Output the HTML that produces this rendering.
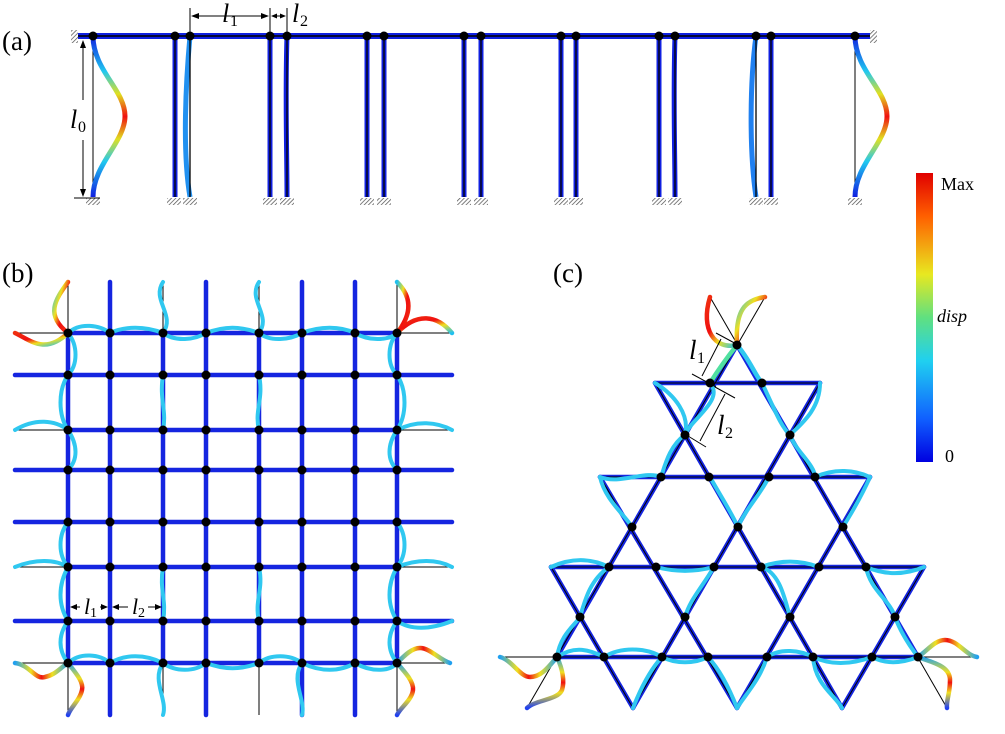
<!DOCTYPE html>
<html><head><meta charset="utf-8"><style>
html,body{margin:0;padding:0;background:#fff;}
svg{display:block;font-family:"Liberation Serif",serif;}
</style></head><body>
<svg width="1005" height="734" viewBox="0 0 1005 734" xmlns="http://www.w3.org/2000/svg">
<defs>
<linearGradient id="jetv" x1="0" y1="36" x2="0" y2="197" gradientUnits="userSpaceOnUse">
<stop offset="0" stop-color="#1020e0"/><stop offset="0.22" stop-color="#20c8f0"/><stop offset="0.36" stop-color="#e0e020"/><stop offset="0.5" stop-color="#f01010"/><stop offset="0.64" stop-color="#e0e020"/><stop offset="0.78" stop-color="#20c8f0"/><stop offset="1" stop-color="#1020e0"/>
</linearGradient>
<linearGradient id="cbar" x1="0" y1="0" x2="0" y2="1">
<stop offset="0" stop-color="#e00000"/><stop offset="0.15" stop-color="#ff6000"/><stop offset="0.35" stop-color="#e8e820"/><stop offset="0.5" stop-color="#60e080"/><stop offset="0.65" stop-color="#20d0f0"/><stop offset="0.85" stop-color="#1060ff"/><stop offset="1" stop-color="#0000e0"/>
</linearGradient>
<linearGradient id="hot" x1="0" y1="0" x2="1" y2="1">
<stop offset="0" stop-color="#20c0f0"/><stop offset="0.35" stop-color="#f0e020"/><stop offset="0.6" stop-color="#f01010"/><stop offset="1" stop-color="#f03010"/>
</linearGradient>
<linearGradient id="hot2" x1="1" y1="1" x2="0" y2="0">
<stop offset="0" stop-color="#20c0f0"/><stop offset="0.35" stop-color="#f0e020"/><stop offset="0.6" stop-color="#f01010"/><stop offset="1" stop-color="#f03010"/>
</linearGradient>
<linearGradient id="mid" x1="0" y1="0" x2="1" y2="0">
<stop offset="0" stop-color="#20a0f0"/><stop offset="0.3" stop-color="#f0e020"/><stop offset="0.5" stop-color="#f01010"/><stop offset="0.7" stop-color="#f0e020"/><stop offset="1" stop-color="#20a0f0"/>
</linearGradient>
<linearGradient id="midv" x1="0" y1="0" x2="0" y2="1">
<stop offset="0" stop-color="#20a0f0"/><stop offset="0.3" stop-color="#f0e020"/><stop offset="0.5" stop-color="#f01010"/><stop offset="0.7" stop-color="#f0e020"/><stop offset="1" stop-color="#2040f0"/>
</linearGradient>
<pattern id="hatch" width="3" height="3" patternUnits="userSpaceOnUse" patternTransform="rotate(45)">
<rect width="3" height="3" fill="#fff"/><line x1="0" y1="0" x2="0" y2="3" stroke="#555" stroke-width="1.5"/>
</pattern>
</defs>

<text x="2" y="50" font-size="27">(a)</text>
<text x="2" y="282" font-size="27">(b)</text>
<text x="553" y="282" font-size="27">(c)</text>

<!-- ===== (a) ===== -->
<g>
<rect x="71" y="30" width="7" height="13" fill="url(#hatch)"/>
<rect x="870" y="30" width="7" height="13" fill="url(#hatch)"/>
<line x1="78" y1="36" x2="870" y2="36" stroke="#1020e0" stroke-width="6"/>
<line x1="78" y1="36" x2="870" y2="36" stroke="#000" stroke-width="1.5"/>
<line x1="93" y1="36" x2="93" y2="197" stroke="#000" stroke-width="1"/>
<line x1="855" y1="36" x2="855" y2="197" stroke="#000" stroke-width="1"/>
<path d="M93,36 C93,70 125,90 125,116 C125,142 93,165 93,197" fill="none" stroke="url(#jetv)" stroke-width="5"/>
<path d="M855,36 C855,70 887,90 887,116 C887,142 855,165 855,197" fill="none" stroke="url(#jetv)" stroke-width="5"/>
<g stroke-width="5" fill="none" stroke="#1020e0">
<line x1="175" y1="36" x2="175" y2="197"/>
<path d="M190,36 C186,80 182,150 190,197" stroke="#2090f0"/>
<line x1="270" y1="36" x2="270" y2="197"/><path d="M287,36 C285,100 287,150 287,197"/>
<line x1="367" y1="36" x2="367" y2="197"/><line x1="384" y1="36" x2="384" y2="197"/>
<line x1="464" y1="36" x2="464" y2="197"/><line x1="481" y1="36" x2="481" y2="197"/>
<line x1="561" y1="36" x2="561" y2="197"/><line x1="576" y1="36" x2="576" y2="197"/>
<line x1="659" y1="36" x2="659" y2="197"/><path d="M675,36 C673,100 675,150 675,197"/>
<path d="M756,36 C750,80 749,150 756,197" stroke="#2080f0"/><line x1="771" y1="36" x2="771" y2="197"/>
</g>
<g stroke="#000" stroke-width="1.3">
<line x1="175" y1="36" x2="175" y2="197"/><line x1="190" y1="36" x2="190" y2="197"/>
<line x1="270" y1="36" x2="270" y2="197"/><line x1="287" y1="36" x2="287" y2="197"/>
<line x1="367" y1="36" x2="367" y2="197"/><line x1="384" y1="36" x2="384" y2="197"/>
<line x1="464" y1="36" x2="464" y2="197"/><line x1="481" y1="36" x2="481" y2="197"/>
<line x1="561" y1="36" x2="561" y2="197"/><line x1="576" y1="36" x2="576" y2="197"/>
<line x1="659" y1="36" x2="659" y2="197"/><line x1="675" y1="36" x2="675" y2="197"/>
<line x1="756" y1="36" x2="756" y2="197"/><line x1="771" y1="36" x2="771" y2="197"/>
</g>
<g fill="url(#hatch)">
<rect x="86" y="198" width="14" height="7"/><rect x="848" y="198" width="14" height="7"/>
<rect x="167" y="198" width="14" height="7"/><rect x="183" y="198" width="14" height="7"/>
<rect x="263" y="198" width="14" height="7"/><rect x="280" y="198" width="14" height="7"/>
<rect x="360" y="198" width="14" height="7"/><rect x="377" y="198" width="14" height="7"/>
<rect x="457" y="198" width="14" height="7"/><rect x="474" y="198" width="14" height="7"/>
<rect x="554" y="198" width="14" height="7"/><rect x="569" y="198" width="14" height="7"/>
<rect x="652" y="198" width="14" height="7"/><rect x="668" y="198" width="14" height="7"/>
<rect x="749" y="198" width="14" height="7"/><rect x="764" y="198" width="14" height="7"/>
</g>
<line x1="74" y1="198" x2="100" y2="198" stroke="#000" stroke-width="1"/>
<g fill="#000">
<circle cx="93" cy="36" r="4.5"/><circle cx="175" cy="36" r="4.5"/><circle cx="190" cy="36" r="4.5"/>
<circle cx="270" cy="36" r="4.5"/><circle cx="287" cy="36" r="4.5"/><circle cx="367" cy="36" r="4.5"/>
<circle cx="384" cy="36" r="4.5"/><circle cx="464" cy="36" r="4.5"/><circle cx="481" cy="36" r="4.5"/>
<circle cx="561" cy="36" r="4.5"/><circle cx="576" cy="36" r="4.5"/><circle cx="659" cy="36" r="4.5"/>
<circle cx="675" cy="36" r="4.5"/><circle cx="756" cy="36" r="4.5"/><circle cx="771" cy="36" r="4.5"/>
<circle cx="855" cy="36" r="4.5"/>
</g>
<g stroke="#000" stroke-width="1">
<line x1="83" y1="42" x2="83" y2="100"/><line x1="83" y1="140" x2="83" y2="195"/>
<line x1="190" y1="8" x2="190" y2="36"/><line x1="270" y1="8" x2="270" y2="36"/><line x1="287" y1="8" x2="287" y2="36"/>
<line x1="193" y1="16" x2="267" y2="16"/><line x1="272" y1="16" x2="285" y2="16"/>
</g>
<g fill="#000">
<path d="M83,40 l-3,8 h6z"/><path d="M83,197 l-3,-8 h6z"/>
<path d="M191,16 l8,-3 v6z"/><path d="M269,16 l-8,-3 v6z"/><path d="M271,16 l6,-2.5 v5z"/><path d="M286,16 l-6,-2.5 v5z"/>
</g>
<text x="70" y="128" font-size="26" font-style="italic">l</text><text x="78" y="132" font-size="16">0</text>
<text x="222" y="22" font-size="26" font-style="italic">l</text><text x="230" y="26" font-size="16">1</text>
<text x="292" y="22" font-size="26" font-style="italic">l</text><text x="300" y="26" font-size="16">2</text>
</g>

<rect x="916" y="173" width="17" height="289" fill="url(#cbar)"/>
<text x="941" y="190" font-size="18">Max</text>
<text x="937" y="322" font-size="18" font-style="italic">disp</text>
<text x="945" y="462" font-size="18">0</text>

<!-- ===== (b) ===== -->
<g>
<g stroke="#000" stroke-width="1">
<line x1="15" y1="333" x2="452" y2="333"/><line x1="15" y1="375" x2="452" y2="375"/>
<line x1="15" y1="430" x2="452" y2="430"/><line x1="15" y1="470" x2="452" y2="470"/>
<line x1="15" y1="522" x2="452" y2="522"/><line x1="15" y1="567" x2="452" y2="567"/>
<line x1="15" y1="621" x2="452" y2="621"/><line x1="15" y1="663" x2="452" y2="663"/>
<line x1="68" y1="282" x2="68" y2="715"/><line x1="110" y1="282" x2="110" y2="715"/>
<line x1="163" y1="282" x2="163" y2="715"/><line x1="206" y1="282" x2="206" y2="715"/>
<line x1="259" y1="282" x2="259" y2="715"/><line x1="302" y1="282" x2="302" y2="715"/>
<line x1="355" y1="282" x2="355" y2="715"/><line x1="397" y1="282" x2="397" y2="715"/>
</g>
<g stroke="#1525e0" stroke-width="4.5" fill="none" stroke-linecap="round">
<line x1="15" y1="375" x2="452" y2="375"/><line x1="15" y1="470" x2="452" y2="470"/>
<line x1="15" y1="522" x2="452" y2="522"/><line x1="15" y1="621" x2="452" y2="621"/>
<line x1="68" y1="333" x2="397" y2="333"/><line x1="68" y1="430" x2="397" y2="430"/>
<line x1="68" y1="567" x2="397" y2="567"/><line x1="68" y1="663" x2="397" y2="663"/>
<line x1="110" y1="282" x2="110" y2="715"/><line x1="206" y1="282" x2="206" y2="715"/>
<line x1="302" y1="282" x2="302" y2="715"/><line x1="355" y1="282" x2="355" y2="715"/>
<line x1="68" y1="333" x2="68" y2="663"/><line x1="163" y1="333" x2="163" y2="663"/>
<line x1="259" y1="333" x2="259" y2="663"/><line x1="397" y1="333" x2="397" y2="663"/>
</g>
<g stroke="#30c8f0" stroke-width="4" fill="none" stroke-linecap="round">
<path d="M68,333 C80,322 100,325 110,333"/><path d="M110,333 C125,326 145,326 163,333"/>
<path d="M163,333 C175,342 195,340 206,333"/><path d="M206,333 C225,326 240,326 259,333"/>
<path d="M259,333 C270,342 290,340 302,333"/><path d="M302,333 C320,326 340,326 355,333"/>
<path d="M355,333 C370,342 390,340 397,333"/>
<path d="M68,663 C80,652 100,654 110,663"/><path d="M110,663 C125,654 145,654 163,663"/>
<path d="M163,663 C175,672 195,672 206,663"/><path d="M206,663 C225,670 240,670 259,663"/>
<path d="M259,663 C270,654 290,654 302,663"/><path d="M302,663 C320,672 340,672 355,663"/>
<path d="M355,663 C370,672 390,672 397,663"/>
<path d="M68,333 C78,345 78,365 68,375"/><path d="M68,375 C58,390 58,415 68,430"/>
<path d="M68,430 C78,445 78,460 68,470"/><path d="M68,522 C58,535 58,555 68,567"/><path d="M68,567 C58,585 58,605 68,621"/><path d="M68,621 C58,635 58,650 68,663"/>
<path d="M397,333 C387,345 387,365 397,375"/><path d="M397,375 C407,390 407,415 397,430"/>
<path d="M397,430 C387,445 387,460 397,470"/><path d="M397,522 C407,535 407,555 397,567"/><path d="M397,567 C387,585 387,605 397,621"/><path d="M397,621 C387,635 387,650 397,663"/>
<path d="M163,282 C151,300 176,315 163,333"/><path d="M259,282 C247,300 272,315 259,333"/><path d="M163,663 C151,680 168,700 163,715"/><path d="M302,663 C290,680 306,700 302,715"/>
<path d="M15,430 C35,418 55,420 68,430"/><path d="M15,567 C35,559 55,559 68,567"/>
<path d="M397,430 C417,420 437,422 452,430"/><path d="M397,567 C417,559 437,559 452,567"/>
<path d="M397,621 C410,630 430,630 452,621"/>
<path d="M163,375 C159,400 167,410 163,430"/><path d="M259,375 C264,400 254,410 259,430"/>
<path d="M163,567 C159,590 167,600 163,621"/><path d="M259,567 C264,590 254,600 259,621"/>
</g>
<g stroke-width="4.5" fill="none" stroke-linecap="round">
<path d="M68,282 C55,300 45,315 68,333" stroke="url(#hot)"/>
<path d="M15,333 C30,340 45,355 68,333" stroke="url(#hot2)"/>
<path d="M397,282 C415,300 409,318 397,333" stroke="url(#hot)"/>
<path d="M397,333 C417,312 437,315 452,333" stroke="url(#hot2)"/>
<path d="M15,663 C30,665 35,680 45,677 C55,675 60,668 68,663" stroke="url(#mid)"/>
<path d="M68,663 C75,672 84,682 82,690 C80,700 70,708 68,715" stroke="url(#midv)"/>
<path d="M397,663 C405,655 412,648 420,648 C430,648 440,660 450,663" stroke="url(#mid)"/>
<path d="M397,663 C405,672 414,682 413,690 C412,700 400,708 397,715" stroke="url(#midv)"/>
</g>
<g fill="#000">
<circle cx="68" cy="333" r="4.5"/><circle cx="110" cy="333" r="4.5"/><circle cx="163" cy="333" r="4.5"/><circle cx="206" cy="333" r="4.5"/><circle cx="259" cy="333" r="4.5"/><circle cx="302" cy="333" r="4.5"/><circle cx="355" cy="333" r="4.5"/><circle cx="397" cy="333" r="4.5"/>
<circle cx="68" cy="375" r="4.5"/><circle cx="110" cy="375" r="4.5"/><circle cx="163" cy="375" r="4.5"/><circle cx="206" cy="375" r="4.5"/><circle cx="259" cy="375" r="4.5"/><circle cx="302" cy="375" r="4.5"/><circle cx="355" cy="375" r="4.5"/><circle cx="397" cy="375" r="4.5"/>
<circle cx="68" cy="430" r="4.5"/><circle cx="110" cy="430" r="4.5"/><circle cx="163" cy="430" r="4.5"/><circle cx="206" cy="430" r="4.5"/><circle cx="259" cy="430" r="4.5"/><circle cx="302" cy="430" r="4.5"/><circle cx="355" cy="430" r="4.5"/><circle cx="397" cy="430" r="4.5"/>
<circle cx="68" cy="470" r="4.5"/><circle cx="110" cy="470" r="4.5"/><circle cx="163" cy="470" r="4.5"/><circle cx="206" cy="470" r="4.5"/><circle cx="259" cy="470" r="4.5"/><circle cx="302" cy="470" r="4.5"/><circle cx="355" cy="470" r="4.5"/><circle cx="397" cy="470" r="4.5"/>
<circle cx="68" cy="522" r="4.5"/><circle cx="110" cy="522" r="4.5"/><circle cx="163" cy="522" r="4.5"/><circle cx="206" cy="522" r="4.5"/><circle cx="259" cy="522" r="4.5"/><circle cx="302" cy="522" r="4.5"/><circle cx="355" cy="522" r="4.5"/><circle cx="397" cy="522" r="4.5"/>
<circle cx="68" cy="567" r="4.5"/><circle cx="110" cy="567" r="4.5"/><circle cx="163" cy="567" r="4.5"/><circle cx="206" cy="567" r="4.5"/><circle cx="259" cy="567" r="4.5"/><circle cx="302" cy="567" r="4.5"/><circle cx="355" cy="567" r="4.5"/><circle cx="397" cy="567" r="4.5"/>
<circle cx="68" cy="621" r="4.5"/><circle cx="110" cy="621" r="4.5"/><circle cx="163" cy="621" r="4.5"/><circle cx="206" cy="621" r="4.5"/><circle cx="259" cy="621" r="4.5"/><circle cx="302" cy="621" r="4.5"/><circle cx="355" cy="621" r="4.5"/><circle cx="397" cy="621" r="4.5"/>
<circle cx="68" cy="663" r="4.5"/><circle cx="110" cy="663" r="4.5"/><circle cx="163" cy="663" r="4.5"/><circle cx="206" cy="663" r="4.5"/><circle cx="259" cy="663" r="4.5"/><circle cx="302" cy="663" r="4.5"/><circle cx="355" cy="663" r="4.5"/><circle cx="397" cy="663" r="4.5"/>
</g>
<g stroke="#000" stroke-width="1">
<line x1="71" y1="607" x2="107" y2="607"/><line x1="113" y1="607" x2="160" y2="607"/>
</g>
<g fill="#000"><path d="M70,607 l7,-3 v6z"/><path d="M108,607 l-7,-3 v6z"/><path d="M112,607 l7,-3 v6z"/><path d="M162,607 l-7,-3 v6z"/></g>
<rect x="80" y="592" width="20" height="25" fill="#fff"/><rect x="128" y="592" width="20" height="25" fill="#fff"/>
<text x="84" y="614" font-size="22" font-style="italic">l</text><text x="90" y="617" font-size="14">1</text>
<text x="132" y="614" font-size="22" font-style="italic">l</text><text x="138" y="617" font-size="14">2</text>
</g>

<!-- ===== (c) ===== -->
<g>
<g stroke="#1525e0" stroke-width="4.5" stroke-linecap="round" fill="none">
<line x1="655" y1="383" x2="820" y2="383"/><line x1="600" y1="477" x2="870" y2="477"/>
<line x1="551" y1="567" x2="924" y2="567"/><line x1="557" y1="657" x2="918" y2="657"/>
<line x1="737" y1="345" x2="557" y2="657"/><line x1="737" y1="345" x2="918" y2="657"/>
<line x1="655" y1="383" x2="842" y2="708"/><line x1="820" y1="383" x2="633" y2="708"/>
<line x1="600" y1="477" x2="737" y2="708"/><line x1="870" y1="477" x2="737" y2="708"/>
<line x1="551" y1="567" x2="633" y2="708"/><line x1="924" y1="567" x2="842" y2="708"/>
</g>
<g stroke="#000" stroke-width="1">
<line x1="655" y1="383" x2="820" y2="383"/><line x1="600" y1="477" x2="870" y2="477"/>
<line x1="551" y1="567" x2="924" y2="567"/><line x1="500" y1="657" x2="977" y2="657"/>
<line x1="765" y1="297" x2="527" y2="708"/><line x1="710" y1="297" x2="947" y2="708"/>
<line x1="655" y1="383" x2="842" y2="708"/><line x1="820" y1="383" x2="633" y2="708"/>
<line x1="600" y1="477" x2="737" y2="708"/><line x1="870" y1="477" x2="737" y2="708"/>
<line x1="551" y1="567" x2="633" y2="708"/><line x1="924" y1="567" x2="842" y2="708"/>
</g>
<g stroke="#30c8f0" stroke-width="4" fill="none" stroke-linecap="round">
<path d="M655,383 C675,395 690,415 685,435"/><path d="M820,383 C820,410 800,425 790,435"/>
<path d="M710,383 C725,400 690,420 685,435"/><path d="M762,383 C775,410 780,425 790,435"/>
<path d="M600,477 C620,485 645,470 661,477"/><path d="M815,477 C835,468 855,470 870,477"/>
<path d="M685,435 C670,445 665,465 661,477"/><path d="M790,435 C795,450 815,465 815,477"/>
<path d="M551,567 C575,556 595,560 609,567"/><path d="M866,567 C885,575 905,575 924,567"/>
<path d="M600,477 C605,500 625,515 632,527"/><path d="M870,477 C860,500 850,515 843,527"/>
<path d="M609,567 C590,580 585,600 580,617"/><path d="M714,567 C700,590 690,600 685,617"/>
<path d="M761,567 C780,572 785,600 790,617"/><path d="M866,567 C870,590 890,600 895,617"/>
<path d="M656,567 C675,572 695,572 714,567"/><path d="M761,567 C780,560 800,560 819,567"/>
<path d="M557,657 C575,645 590,650 604,657"/><path d="M662,657 C650,670 640,690 633,708"/>
<path d="M604,657 C620,647 645,647 662,657"/><path d="M662,657 C675,664 695,664 708,657"/>
<path d="M767,657 C780,648 800,650 813,657"/><path d="M813,657 C830,665 850,665 872,657"/>
<path d="M872,657 C885,664 900,664 918,657"/>
<path d="M708,657 C720,670 730,690 737,708"/><path d="M767,657 C760,680 745,695 737,708"/>
<path d="M813,657 C815,685 835,695 842,708"/>
<path d="M557,657 C560,635 575,625 580,617"/><path d="M918,657 C905,640 898,625 895,617"/>
<path d="M710,477 C720,495 730,510 738,527"/><path d="M769,477 C760,495 745,510 738,527"/>
</g>
<g stroke-width="4.5" fill="none" stroke-linecap="round">
<path d="M737,345 C715,350 700,330 710,297" stroke="url(#hot2)"/>
<path d="M737,345 C735,310 745,300 765,297" stroke="url(#hot)"/>
<path d="M737,345 C750,360 755,375 762,383" stroke="#30c8f0"/>
<path d="M737,345 C725,360 715,375 710,383" stroke="#50e0a0"/>
<path d="M500,657 C512,660 520,677 530,677 C542,677 550,665 557,657" stroke="url(#mid)"/>
<path d="M557,657 C562,668 565,680 562,690 C558,700 535,700 527,708" stroke="url(#midv)"/>
<path d="M918,657 C928,650 935,640 945,640 C958,640 965,655 977,657" stroke="url(#mid)"/>
<path d="M918,657 C930,662 950,665 950,680 C950,695 946,700 947,708" stroke="url(#midv)"/>
</g>
<g fill="#000">
<circle cx="737" cy="345" r="4.5"/><circle cx="710" cy="383" r="4.5"/><circle cx="762" cy="383" r="4.5"/>
<circle cx="685" cy="435" r="4.5"/><circle cx="790" cy="435" r="4.5"/>
<circle cx="661" cy="477" r="4.5"/><circle cx="709" cy="477" r="4.5"/><circle cx="769" cy="477" r="4.5"/><circle cx="815" cy="477" r="4.5"/>
<circle cx="632" cy="527" r="4.5"/><circle cx="738" cy="527" r="4.5"/><circle cx="843" cy="527" r="4.5"/>
<circle cx="609" cy="567" r="4.5"/><circle cx="656" cy="567" r="4.5"/><circle cx="714" cy="567" r="4.5"/><circle cx="761" cy="567" r="4.5"/><circle cx="819" cy="567" r="4.5"/><circle cx="866" cy="567" r="4.5"/>
<circle cx="580" cy="617" r="4.5"/><circle cx="685" cy="617" r="4.5"/><circle cx="790" cy="617" r="4.5"/><circle cx="895" cy="617" r="4.5"/>
<circle cx="557" cy="657" r="4.5"/><circle cx="604" cy="657" r="4.5"/><circle cx="662" cy="657" r="4.5"/><circle cx="708" cy="657" r="4.5"/><circle cx="767" cy="657" r="4.5"/><circle cx="813" cy="657" r="4.5"/><circle cx="872" cy="657" r="4.5"/><circle cx="918" cy="657" r="4.5"/>
</g>
<g stroke="#000" stroke-width="1">
<line x1="716" y1="333" x2="740" y2="346"/><line x1="692" y1="374" x2="716" y2="387"/>
<line x1="721" y1="339" x2="702" y2="376"/>
<line x1="715" y1="387" x2="735" y2="398"/><line x1="688" y1="436" x2="706" y2="447"/>
<line x1="725" y1="394" x2="700" y2="441"/>
</g>
<text x="689" y="359" font-size="27" font-style="italic">l</text><text x="697" y="363" font-size="16">1</text>
<text x="717" y="434" font-size="27" font-style="italic">l</text><text x="725" y="438" font-size="16">2</text>
</g>
</svg>
</body></html>
